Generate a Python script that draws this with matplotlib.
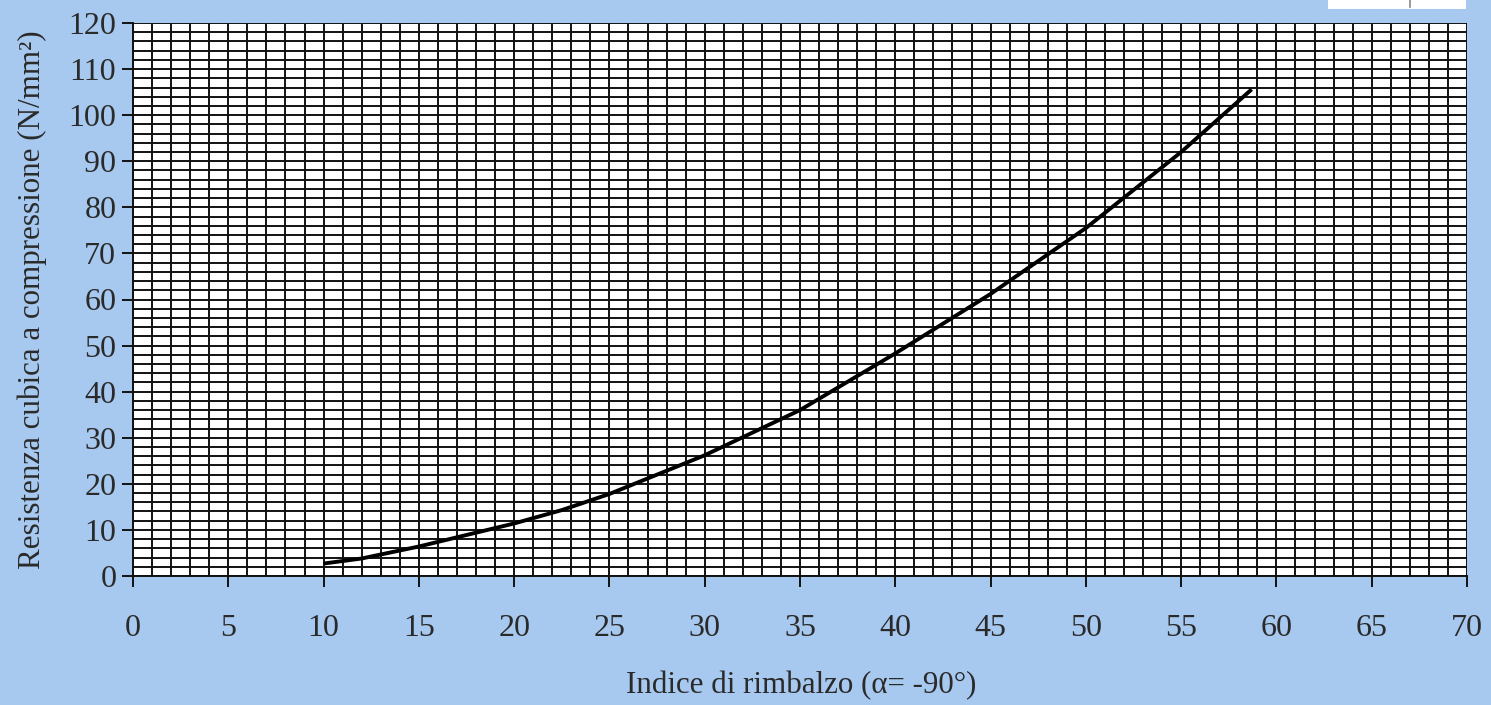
import matplotlib
matplotlib.use("Agg")
import matplotlib.pyplot as plt
from matplotlib.patches import Rectangle
from matplotlib.lines import Line2D
import numpy as np

# Data
rebound_index = [10, 12, 15, 20, 22.5, 25, 30, 35, 40, 45, 50, 55, 58.7]
strength = [2.7, 3.8, 6.4, 11.4, 14.3, 17.8, 26.2, 36.0, 48.3, 61.2, 75.5, 92.0, 105.6]

x_ticks = list(range(0, 71, 5))
y_ticks = list(range(0, 121, 10))

bg = "#A7C9EF"
plt.rcParams['font.family'] = ['Liberation Serif', 'DejaVu Serif']

fig = plt.figure(figsize=(14.91, 7.05), dpi=100, facecolor=bg)
ax = fig.add_axes([133/1491, 1-576/705, (1467-133)/1491, (576-23)/705])
ax.set_facecolor("white")

ax.set_xlim(0, 70)
ax.set_ylim(0, 120)

# dense grid
for xv in range(0, 71):
    ax.axvline(xv, color="#111111", lw=1.4, zorder=1)
for yv in range(0, 121, 2):
    ax.axhline(yv, color="#111111", lw=1.4, zorder=1)

ax.plot(rebound_index, strength, color="black", lw=2.8, zorder=3,
        solid_capstyle="butt")

for s in ["top", "right"]:
    ax.spines[s].set_visible(False)
for s in ["left", "bottom"]:
    ax.spines[s].set_color("#111111")
    ax.spines[s].set_linewidth(1.4)

ax.set_xticks(x_ticks)
ax.set_yticks(y_ticks)
ax.tick_params(axis="both", direction="out", length=8, width=1.4,
               color="#111111", labelsize=23, labelcolor="#2a2a2a")
ax.tick_params(axis="x", pad=19)
ax.tick_params(axis="y", pad=4)

fig.text(32/1491, 1-300/705, "Resistenza cubica a compressione (N/mm²)",
         rotation=90, ha="center", va="center", fontsize=22.3, color="#2a2a2a")
fig.text(801/1491, 1-686/705, "Indice di rimbalzo (α= -90°)",
         ha="center", va="center", fontsize=22.3, color="#2a2a2a")

# cropped white box at top right
fig.patches.append(Rectangle((1328/1491, 1-8.5/705), (1466-1328)/1491, 8.5/705,
                             transform=fig.transFigure, facecolor="white",
                             edgecolor="none", zorder=5))
fig.lines.append(Line2D([1410/1491, 1410/1491], [1-7/705, 1.0],
                        transform=fig.transFigure, color="#888888", lw=1.2, zorder=6))

fig.savefig("out.png", dpi=100, facecolor=bg)
